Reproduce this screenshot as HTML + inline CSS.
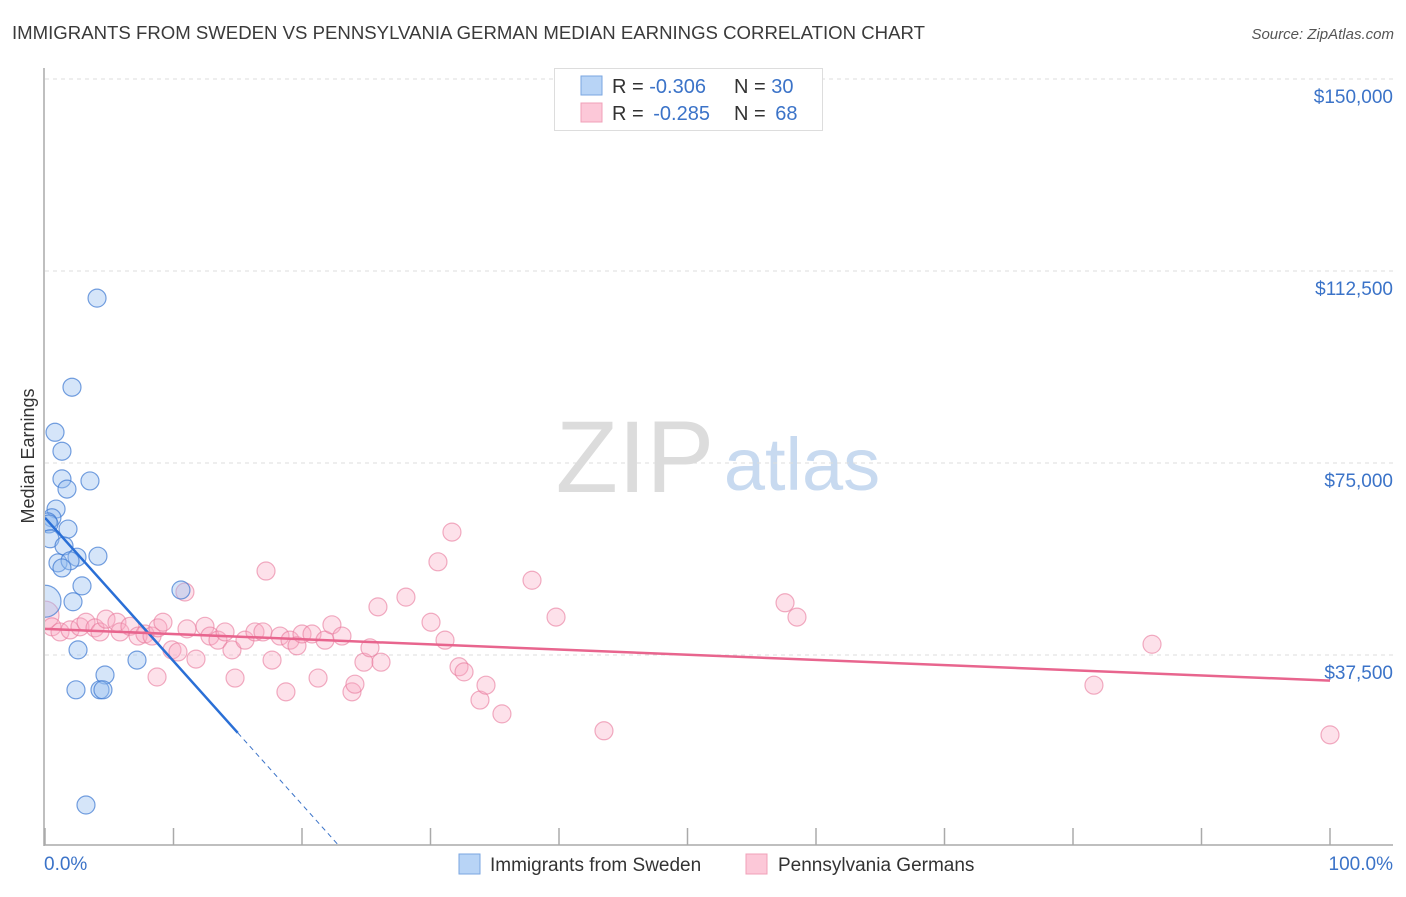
<!DOCTYPE html>
<html><head><meta charset="utf-8"><style>
body{margin:0;background:#fff;font-family:"Liberation Sans",sans-serif;}
svg text{font-family:"Liberation Sans",sans-serif;}
</style></head><body>
<svg id="chart" width="1406" height="892" viewBox="0 0 1406 892">
<defs><clipPath id="plotclip"><rect x="45" y="60" width="1360" height="785"/></clipPath></defs>
<text x="12" y="39" font-size="18.6" fill="#3a3a3a">IMMIGRANTS FROM SWEDEN VS PENNSYLVANIA GERMAN MEDIAN EARNINGS CORRELATION CHART</text>
<text x="1394" y="39" font-size="15" fill="#555" text-anchor="end" font-style="italic">Source: ZipAtlas.com</text>
<text transform="translate(34,456) rotate(-90)" font-size="18" fill="#333" text-anchor="middle">Median Earnings</text>
<g>
<text x="635" y="492" font-size="102" fill="#dcdcdc" font-family="Liberation Serif" text-anchor="middle">ZIP</text>
<text x="802" y="490" font-size="74" fill="#c8daf0" text-anchor="middle">atlas</text>
</g>
<g id="grid"></g>
<g id="axes"></g>
<g id="marks" clip-path="url(#plotclip)"></g>
<g>
<rect x="554.5" y="68.5" width="268" height="62" fill="#fff" stroke="#ddd"/>
<rect x="581" y="76" width="21" height="19" fill="#b8d4f6" stroke="#7aa6e0"/>
<rect x="581" y="103" width="21" height="19" fill="#fcc8d8" stroke="#f0a0b8"/>
<text x="612" y="93" font-size="20" fill="#333">R = <tspan fill="#3b73c8">-0.306</tspan><tspan x="734">N = </tspan><tspan fill="#3b73c8">30</tspan></text>
<text x="612" y="120" font-size="20" fill="#333">R = <tspan fill="#3b73c8" dx="4">-0.285</tspan><tspan x="734">N = </tspan><tspan fill="#3b73c8" dx="4">68</tspan></text>
</g>
<g>
<rect x="459" y="854" width="21" height="20" fill="#b8d4f6" stroke="#7aa6e0"/>
<text x="490" y="871" font-size="19" fill="#333">Immigrants from Sweden</text>
<rect x="746" y="854" width="21" height="20" fill="#fcc8d8" stroke="#f0a0b8"/>
<text x="778" y="871" font-size="19" fill="#333">Pennsylvania Germans</text>
</g>
</svg>
<script>
const yTicks=[37500,75000,112500,150000];
const yTickLabels=["$37,500","$75,000","$112,500","$150,000"];
const xTickLabels=["0.0%","100.0%"];
const swedenX=[4.05,2.10,0.78,1.32,1.32,3.50,1.71,0.86,0.54,0.23,0.31,1.79,0.39,1.48,4.12,2.49,1.01,1.95,1.32,2.88,10.58,2.18,0,2.57,7.16,4.67,2.41,4.28,4.51,3.19];
const swedenY=[107200,89800,81000,77300,71900,71500,69900,66000,64300,63500,63100,62100,60200,58800,56800,56600,55500,55900,54500,51000,50200,47900,48000,38500,36500,33600,30700,30700,30700,8200];
const paX=[0,0.54,1.17,1.95,2.72,3.19,3.89,4.28,4.75,5.60,5.84,6.61,7.24,7.78,8.33,8.79,9.18,9.88,10.35,8.72,10.89,11.05,11.75,12.45,12.84,13.46,14.01,14.55,14.79,15.56,16.34,16.96,17.20,17.67,18.29,18.75,19.07,19.61,20.0,20.78,21.25,21.79,22.33,23.11,23.89,24.12,24.82,25.29,25.91,26.15,28.09,30.04,30.58,31.13,31.67,32.22,32.61,33.85,34.32,35.56,37.9,39.77,43.5,57.59,58.52,81.63,86.15,100];
const paY=[45300,43000,42000,42400,43000,43900,42800,42000,44500,43900,42000,43100,41200,41600,41200,42800,43900,38500,38100,33200,49800,42600,36700,43100,41200,40400,42000,38500,33000,40400,42000,42000,53900,36500,41200,30300,40400,39300,41600,41600,33000,40400,43400,41200,30300,31800,36100,38900,46900,36100,48800,43900,55700,40400,61500,35200,34200,28700,31600,26000,52100,44900,22700,47700,44900,31600,39600,21900];
const trendSweden=[[0,64300],[15,22300]];
const trendPa=[[0,42600],[100,32500]];
const ns="http://www.w3.org/2000/svg";
const X=v=>45+v*12.85, Y=v=>847-v/37500*192;
function mk(tag,attrs,parent){const e=document.createElementNS(ns,tag);for(const k in attrs)e.setAttribute(k,attrs[k]);parent.appendChild(e);return e;}
const grid=document.getElementById('grid'),axes=document.getElementById('axes'),marks=document.getElementById('marks');
mk('line',{x1:45,x2:1393,y1:Y(150000),y2:Y(150000),stroke:'#ddd','stroke-dasharray':'4,4'},grid);
yTicks.forEach((t,i)=>{
 const l=mk('line',{x1:45,x2:1393,y1:Y(t),y2:Y(t),stroke:'#ddd','stroke-dasharray':'4,4'},grid);
 
 
 const tx=mk('text',{x:1393,y:Y(t)+24,'font-size':19,fill:'#3b73c8','text-anchor':'end'},grid);
 tx.textContent=yTickLabels[i];
 
 
});
mk('line',{x1:44,x2:44,y1:68,y2:846,stroke:'#aaa','stroke-width':1.5},axes);
mk('line',{x1:44,x2:1393,y1:845,y2:845,stroke:'#aaa','stroke-width':1.5},axes);
for(let i=0;i<=10;i++){mk('line',{x1:X(i*10),x2:X(i*10),y1:828,y2:845,stroke:'#aaa','stroke-width':1.5},axes);}
[[0,'start',44],[100,'end',1393]].forEach((d,i)=>{
 const t=mk('text',{x:d[2],y:870,'font-size':19,fill:'#3b73c8','text-anchor':d[1]},axes);
 t.textContent=xTickLabels[i];
 
 
});
paX.forEach((x,i)=>{
 const c=mk('circle',{cx:X(x),cy:Y(paY[i]),r:i===0?14:9,fill:'rgba(248,170,195,0.35)',stroke:'rgba(232,120,155,0.6)','stroke-width':1.2},marks);
 
 
});
swedenX.forEach((x,i)=>{
 const c=mk('circle',{cx:X(x),cy:Y(swedenY[i]),r:i===22?16:9,fill:'rgba(150,190,240,0.4)',stroke:'rgba(60,120,210,0.7)','stroke-width':1.2},marks);
 
 
});
const slope=(trendSweden[1][1]-trendSweden[0][1])/(trendSweden[1][0]-trendSweden[0][0]);
const xEnd=-trendSweden[0][1]/slope;
const ds=mk('line',{x1:X(trendSweden[1][0]),y1:Y(trendSweden[1][1]),x2:X(xEnd),y2:Y(0),stroke:'#3b73c8','stroke-width':1,'stroke-dasharray':'5,4'},marks);


const ts=mk('line',{x1:X(trendSweden[0][0]),y1:Y(trendSweden[0][1]),x2:X(trendSweden[1][0]),y2:Y(trendSweden[1][1]),stroke:'#2a6fd6','stroke-width':2.5},marks);


const tp=mk('line',{x1:X(trendPa[0][0]),y1:Y(trendPa[0][1]),x2:X(trendPa[1][0]),y2:Y(trendPa[1][1]),stroke:'#e8658e','stroke-width':2.5},marks);


</script>
</body></html>
